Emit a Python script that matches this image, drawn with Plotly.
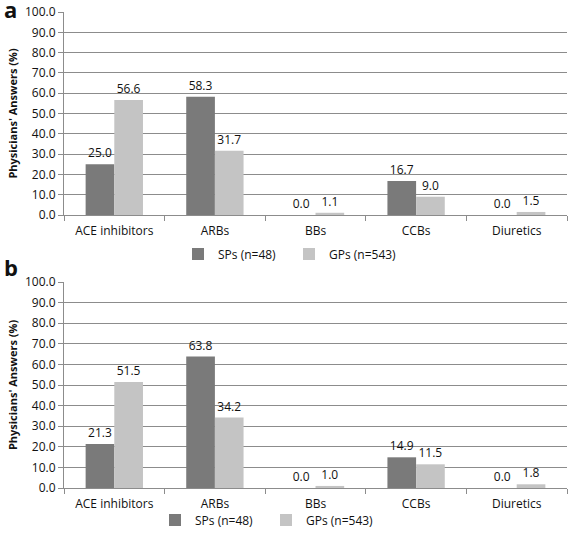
import plotly.graph_objects as go

categories = ["ACE inhibitors", "ARBs", "BBs", "CCBs", "Diuretics"]
sp_a = [25.0, 58.3, 0.0, 16.7, 0.0]
gp_a = [56.6, 31.7, 1.1, 9.0, 1.5]
sp_b = [21.3, 63.8, 0.0, 14.9, 0.0]
gp_b = [51.5, 34.2, 1.0, 11.5, 1.8]
sp_name = "SPs (n=48)"
gp_name = "GPs (n=543)"
y_title = "Physicians' Answers (%)"

SP_COLOR = "#7a7a7a"
GP_COLOR = "#c4c4c4"
FONT = "Open Sans"

fig = go.Figure()

def add_pair(sp, gp, xa, ya, leg):
    for name, vals, col in [(sp_name, sp, SP_COLOR), (gp_name, gp, GP_COLOR)]:
        fig.add_trace(go.Bar(
            x=categories, y=vals, name=name, marker_color=col,
            marker_line_width=0,
            text=[f"{v:.1f}" for v in vals], textposition="outside",
            textfont=dict(size=12, color="#111", family=FONT),
            cliponaxis=False,
            xaxis=xa, yaxis=ya, legend=leg,
        ))

add_pair(sp_a, gp_a, "x", "y", "legend")
add_pair(sp_b, gp_b, "x2", "y2", "legend2")

W, H = 568, 533
ml, mr, mt, mb = 64, 1, 12, 45
ph = H - mt - mb
pw = W - ml - mr

def py(p):
    return (H - mb - p) / ph

def px(p):
    return (p - ml) / pw

xcommon = dict(type="category", showgrid=False, showline=True, linecolor="#8c8c8c",
               linewidth=1, ticks="outside", tickson="boundaries", ticklen=5,
               tickcolor="#8c8c8c", automargin=False, ticklabelstandoff=5,
               tickfont=dict(size=12, color="#111", family=FONT))
ycommon = dict(range=[0, 100], dtick=10, tickformat=".1f", showgrid=True,
               gridcolor="#8c8c8c", gridwidth=1, showline=True, linecolor="#8c8c8c",
               ticks="outside", ticklen=5, tickcolor="#8c8c8c", zeroline=False,
               automargin=False,
               tickfont=dict(size=12, color="#111", family=FONT),
               title=dict(text="<b>" + y_title + "</b>", font=dict(size=11, color="#111", family=FONT), standoff=5))

legcommon = dict(orientation="h", xanchor="center", yanchor="middle", entrywidth=66,
                 itemwidth=30,
                 font=dict(size=12, family=FONT, color="#111"), bgcolor="rgba(0,0,0,0)",
                 traceorder="normal")

fig.update_layout(
    width=W, height=H,
    margin=dict(l=ml, r=mr, t=mt, b=mb, autoexpand=False),
    paper_bgcolor="white", plot_bgcolor="white",
    barmode="group", bargap=0.43, bargroupgap=0,
    font=dict(family=FONT, color="#111"),
    xaxis=dict(**xcommon, anchor="y"),
    yaxis=dict(**ycommon, domain=[py(215), py(12)], anchor="x"),
    xaxis2=dict(**xcommon, anchor="y2"),
    yaxis2=dict(**ycommon, domain=[py(488), py(282)], anchor="x2"),
    legend=dict(**legcommon, x=px(289), y=py(254)),
    legend2=dict(**legcommon, x=px(266), y=py(520)),
    annotations=[
        dict(text="<b>a</b>", x=px(2), y=py(9), xref="paper", yref="paper",
             showarrow=False, xanchor="left", yanchor="middle", font=dict(size=22, family=FONT, color="#111")),
        dict(text="<b>b</b>", x=px(2), y=py(267), xref="paper", yref="paper",
             showarrow=False, xanchor="left", yanchor="middle", font=dict(size=22, family=FONT, color="#111")),
    ],
)

fig.write_html("out.html", config={"displayModeBar": False},
               post_script="document.body.style.margin='0px';")
